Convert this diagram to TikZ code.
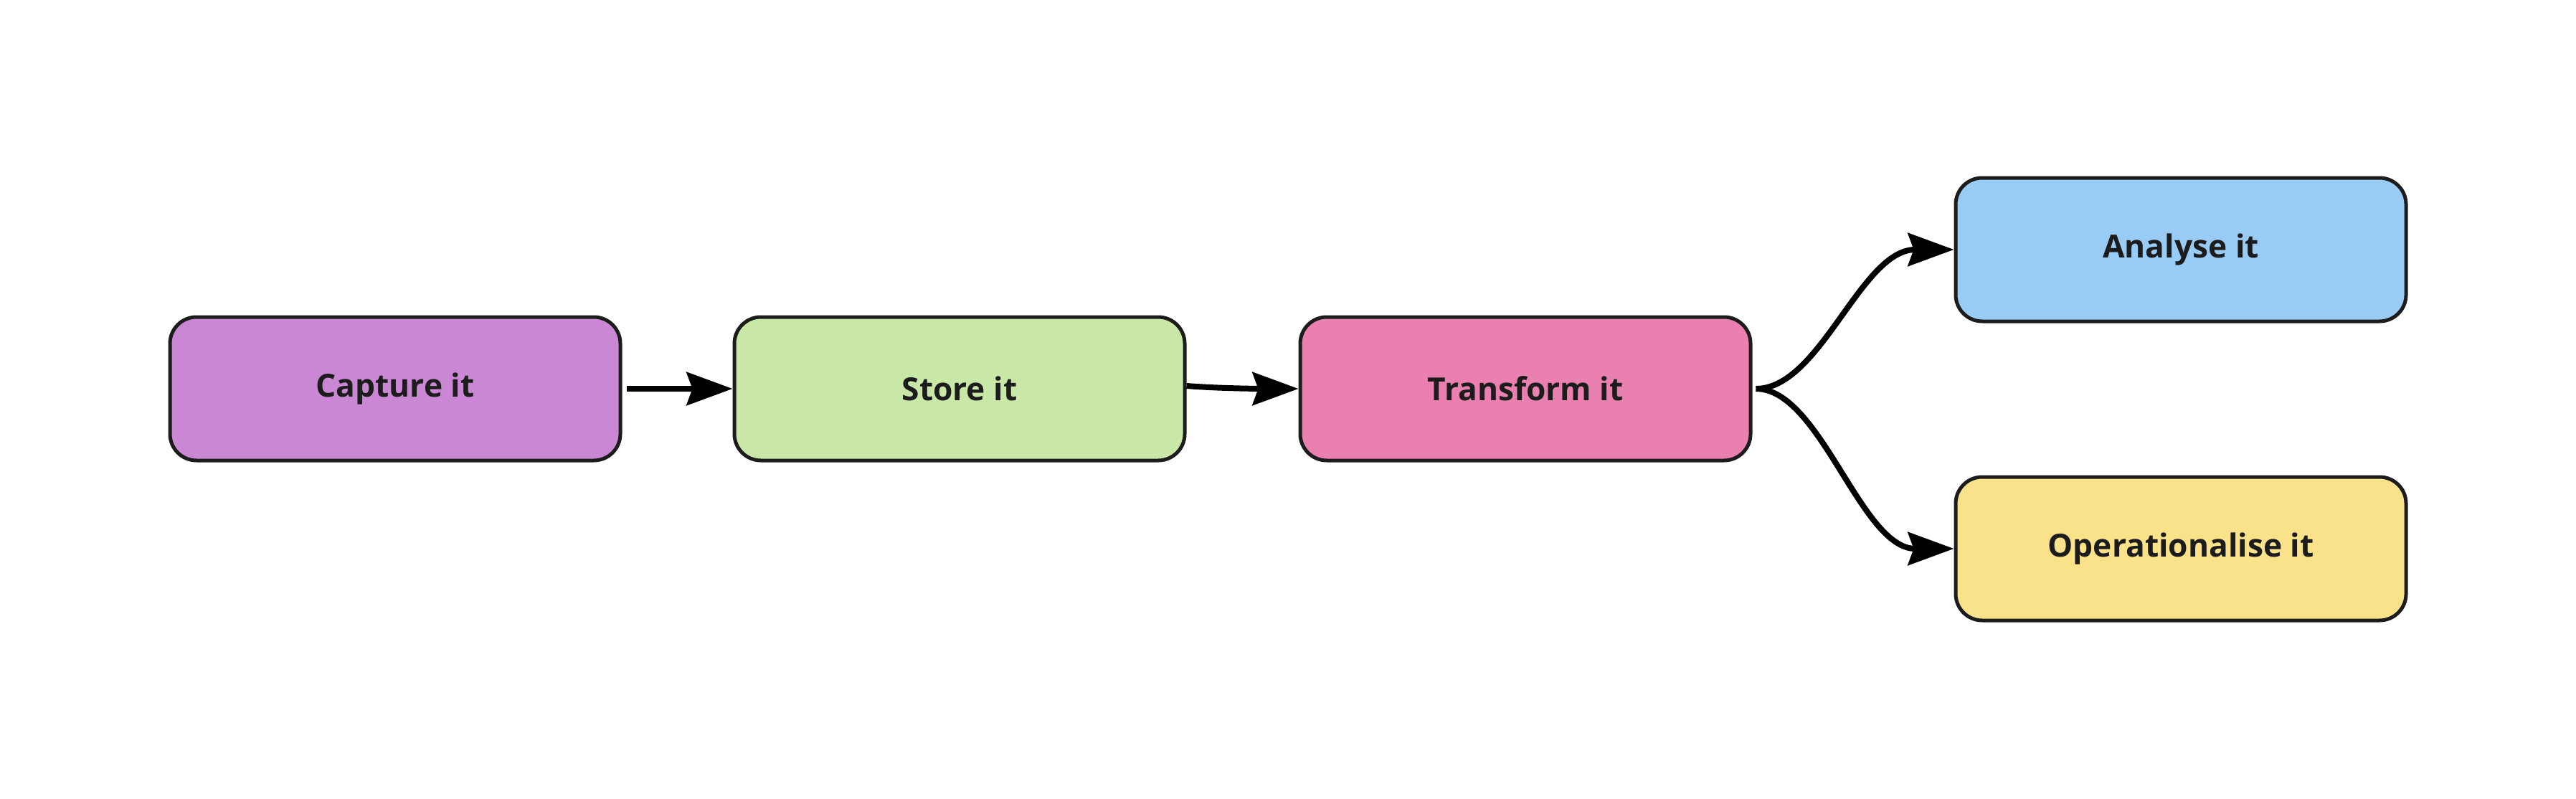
\documentclass[tikz,border=0pt]{standalone}
\usepackage{fontspec}
\setmainfont{Open Sans}
\usetikzlibrary{arrows.meta}
\definecolor{captureviolet}{RGB}{202,135,212}
\definecolor{storegreen}{RGB}{201,232,168}
\definecolor{transformpink}{RGB}{234,128,176}
\definecolor{analyseblue}{RGB}{153,204,245}
\definecolor{operateyellow}{RGB}{250,226,138}
\definecolor{inkdark}{RGB}{28,28,28}

\begin{document}
\begin{tikzpicture}
    \tikzstyle{stage} = [rectangle, draw=inkdark, line width=0.05cm, rounded corners=0.37cm, minimum width=6.28cm, minimum height=2.0cm, text=inkdark, font=\fontsize{12.6}{15}\selectfont\bfseries]
    \tikzstyle{flow} = [-{Stealth[length=0.64cm, width=0.46cm, inset=0.08cm]}, line width=0.08cm, black]

    \useasboundingbox (0,0) rectangle (35.92,11.13);

    % Stages
    \node[stage, fill=captureviolet] (capture) at (5.51,5.71) {Capture it};
    \node[stage, fill=storegreen] (store) at (13.38,5.71) {Store it};
    \node[stage, fill=transformpink] (transform) at (21.27,5.71) {Transform it};
    \node[stage, fill=analyseblue] (analyse) at (30.41,7.65) {Analyse it};
    \node[stage, fill=operateyellow] (operate) at (30.41,3.48) {Operationalise it};

    % Connections
    \draw[flow] ([xshift=0.06cm]capture.east) -- (store.west);
    \draw[flow] ([yshift=0.04cm]store.east) .. controls +(0.5,-0.04) and +(-0.4,0) .. (transform.west);
    \draw[flow] ([xshift=0.05cm]transform.east) .. controls +(0.9,0) and +(-1.3,0) .. (analyse.west);
    \draw[flow] ([xshift=0.05cm]transform.east) .. controls +(0.9,0) and +(-1.3,0) .. (operate.west);
\end{tikzpicture}
\end{document}
